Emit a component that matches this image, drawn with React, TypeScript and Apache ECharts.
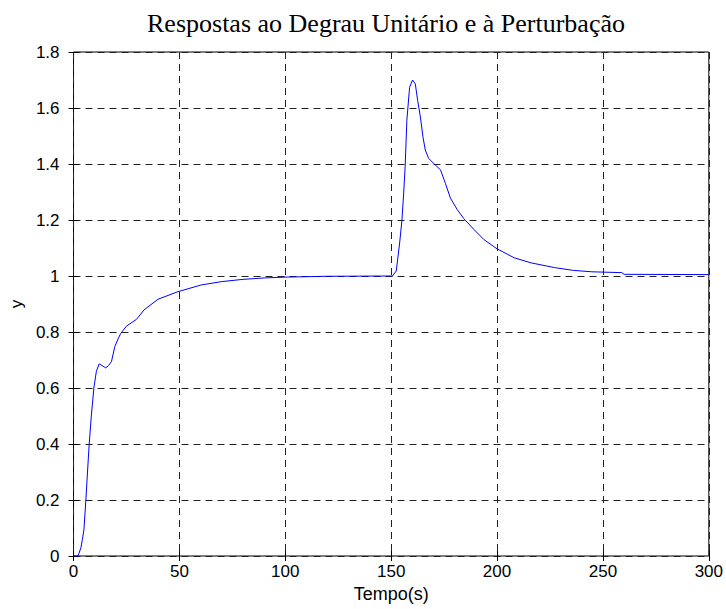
import React, { useEffect, useRef } from "react";
import * as echarts from "echarts";

const times = [
  0, 2, 2.6, 3.5, 4.2, 4.9, 5.8, 6.6, 7.4, 8.4, 9.6, 10.8, 12.1, 13.5, 15.2, 16.5,
  17.9, 19.5, 21, 22.3, 25, 29.7, 33.3, 39.9, 49.3, 60.3, 70, 80, 90, 100, 120, 150,
  150.6, 152.4, 154, 155.1, 155.9, 156.6, 157.4, 158.7, 160.1, 161.4, 162.5, 163.8,
  165, 166.1, 167.7, 170.1, 173.3, 175.6, 178, 181.2, 184.3, 189.1, 193.8, 200,
  208.1, 216, 227.1, 236.1, 244.8, 258.9, 260, 300,
];
const response = [
  0, 0, 0.01, 0.03, 0.06, 0.093, 0.197, 0.3, 0.4, 0.5, 0.6, 0.66, 0.686, 0.68, 0.672, 0.68,
  0.694, 0.748, 0.775, 0.795, 0.821, 0.845, 0.879, 0.917, 0.944, 0.968, 0.98, 0.988, 0.993, 0.996, 0.999, 1.0,
  1.0, 1.018, 1.118, 1.201, 1.296, 1.39, 1.556, 1.674, 1.7, 1.686, 1.627, 1.568,
  1.497, 1.45, 1.42, 1.402, 1.379, 1.331, 1.278, 1.237, 1.205, 1.166, 1.13, 1.097,
  1.065, 1.047, 1.03, 1.02, 1.015, 1.012, 1.006, 1.005,
];

const titleText = "Respostas ao Degrau Unitário e à Perturbação";
const xLabel = "Tempo(s)";
const yLabel = "y";

const sans = "'Liberation Sans', Arial, sans-serif";
const serif = "'Liberation Serif', 'Times New Roman', serif";

export default function App() {
  const ref = useRef<HTMLDivElement>(null);
  useEffect(() => {
    if (!ref.current) return;
    const chart = echarts.init(ref.current, null, { renderer: "svg" });
    const gridLine = { show: true, lineStyle: { color: "#222", type: [7, 5] as any, width: 1 } };
    const tick = { show: true, inside: true, length: 5, lineStyle: { color: "#000" } };
    chart.setOption({
      animation: false,
      backgroundColor: "#fff",
      title: {
        text: titleText,
        left: 381,
        top: 5,
        textAlign: "center",
        textStyle: { fontFamily: serif, fontSize: 26, fontWeight: "normal", color: "#000" },
      },
      grid: {
        left: 72,
        right: 17,
        top: 52,
        bottom: 53,
        show: true,
        borderColor: "#000",
        borderWidth: 1,
        backgroundColor: "#fff",
      },
      xAxis: [
        {
          type: "value",
          min: 0,
          max: 300,
          interval: 50,
          name: xLabel,
          nameLocation: "middle",
          nameGap: 25,
          nameTextStyle: { fontFamily: sans, fontSize: 18, color: "#000" },
          axisLine: { show: false },
          axisTick: tick,
          axisLabel: { fontFamily: sans, fontSize: 17, color: "#000", margin: 7 },
          splitLine: gridLine,
        },
        {
          type: "value",
          position: "top",
          min: 0,
          max: 300,
          interval: 50,
          axisLine: { show: false },
          axisTick: tick,
          axisLabel: { show: false },
          splitLine: { show: false },
        },
      ],
      yAxis: [
        {
          type: "value",
          min: 0,
          max: 1.8,
          interval: 0.2,
          name: yLabel,
          nameLocation: "middle",
          nameGap: 48,
          nameTextStyle: { fontFamily: sans, fontSize: 17, color: "#000" },
          axisLine: { show: false },
          axisTick: tick,
          axisLabel: { fontFamily: sans, fontSize: 17, color: "#000", margin: 14 },
          splitLine: gridLine,
        },
        {
          type: "value",
          position: "right",
          min: 0,
          max: 1.8,
          interval: 0.2,
          axisLine: { show: false },
          axisTick: tick,
          axisLabel: { show: false },
          splitLine: { show: false },
        },
      ],
      series: [
        {
          type: "line",
          data: times.map((t, i) => [t, response[i]]),
          showSymbol: false,
          lineStyle: { color: "#0000ff", width: 1 },
          itemStyle: { color: "#0000ff" },
        },
      ],
    });
    return () => chart.dispose();
  }, []);
  return <div ref={ref} style={{ width: 726, height: 609, position: "absolute", left: 0, top: 0 }} />;
}
